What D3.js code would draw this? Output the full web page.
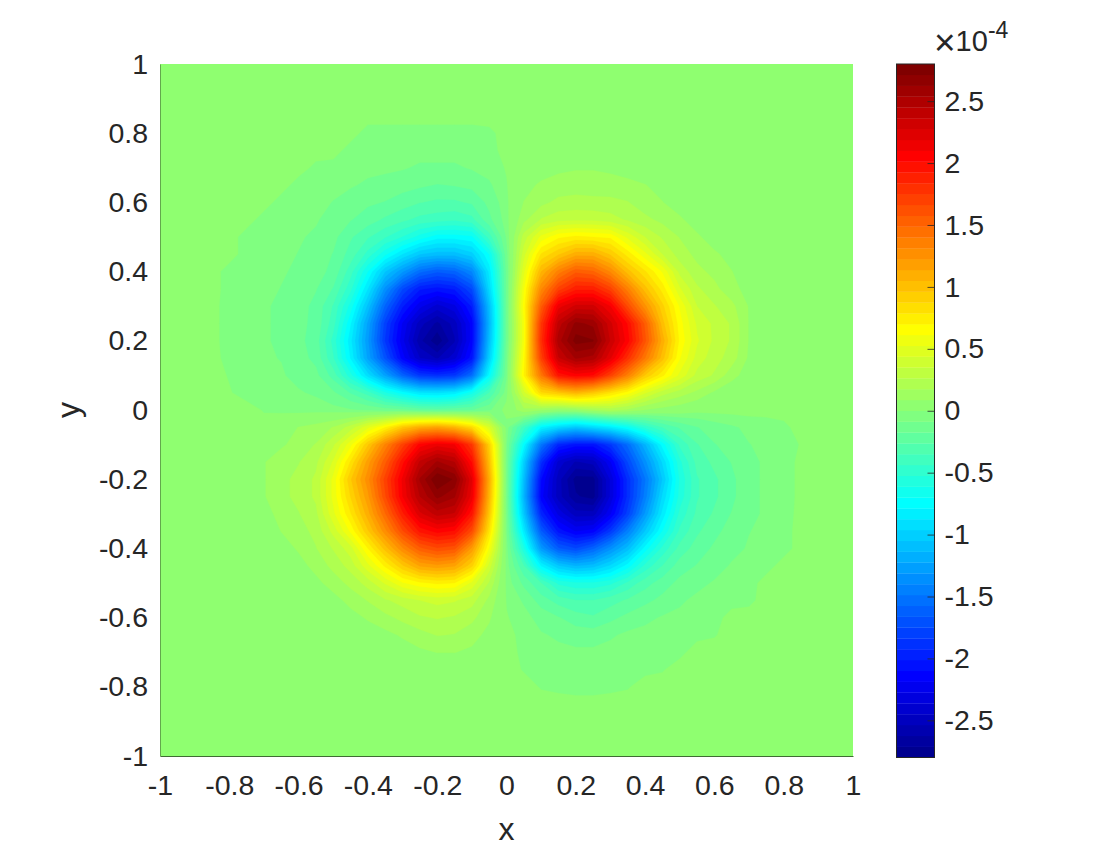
<!DOCTYPE html>
<html><head><meta charset="utf-8">
<script src="https://cdn.jsdelivr.net/npm/d3@7"></script>
<style>
html,body{margin:0;padding:0;background:#fff}
svg{display:block}
text{font-family:"Liberation Sans",Arial,sans-serif;fill:#262626}
</style></head><body>
<svg id="c" width="1102" height="850"></svg>
<script>
// Field values in units of 1e-4. Columns: x = -0.85 ... 0.85, rows: y = 0.85 ... -0.85 (step 0.05)
const zMax = 2.8;
const xTicks = [-1,-0.8,-0.6,-0.4,-0.2,0,0.2,0.4,0.6,0.8,1];
const yTicks = [-1,-0.8,-0.6,-0.4,-0.2,0,0.2,0.4,0.6,0.8,1];
const cbTicks = [-2.5,-2,-1.5,-1,-0.5,0,0.5,1,1.5,2,2.5];
const step = 0.05;
const zRows = [
[0,0,0,0,0,0,0,0,0,0,0,0,0,0,0,0,0, 0, 0,0,0,0,0,0,0,0,0,0,0,0,0,0,0,0,0],
[0,0,0,0,0,0,0,0,0,-.05,-.05,-.05,-.05,-.05,-.05,-.05,-.04, 0, 0,0,0,0,0,0,0,0,0,0,0,0,0,0,0,0,0],
[0,0,0,0,0,0,0,0,-.05,-.05,-.05,-.06,-.06,-.06,-.06,-.06,-.05, 0, 0,0,0,0,0,0,0,0,0,0,0,0,0,0,0,0,0],
[0,0,0,0,0,0,-.04,-.05,-.06,-.07,-.07,-.08,-.1,-.1,-.1,-.08,-.06, -.02, .03,.05,.07,.08,.08,.07,.05,.04,.02,0,0,0,0,0,0,0,0],
[0,0,0,0,0,-.05,-.06,-.07,-.08,-.1,-.12,-.14,-.16,-.18,-.17,-.15,-.1, -.03, .06,.1,.12,.13,.13,.12,.11,.09,.06,.03,0,0,0,0,0,0,0],
[0,0,0,0,-.05,-.06,-.07,-.09,-.12,-.16,-.18,-.22,-.26,-.28,-.28,-.25,-.15, -.04, .09,.15,.2,.21,.2,.2,.18,.12,.09,.05,.02,0,0,0,0,0,0],
[0,0,0,-.05,-.06,-.07,-.08,-.12,-.17,-.22,-.28,-.33,-.38,-.4,-.42,-.38,-.2, -.05, .15,.27,.32,.33,.33,.3,.25,.2,.15,.1,.05,.02,0,0,0,0,0],
[0,0,-.05,-.06,-.07,-.08,-.1,-.15,-.25,-.34,-.43,-.53,-.65,-.75,-.75,-.72,-.4, -.08, .3,.55,.68,.72,.7,.68,.5,.35,.25,.17,.1,.05,.02,0,0,0,0],
[0,0,-.05,-.06,-.07,-.09,-.12,-.18,-.3,-.47,-.68,-.88,-1.05,-1.1,-1.1,-1,-.7, -.12, .4,.8,.95,1.1,1.1,.95,.75,.55,.35,.22,.15,.1,.06,.02,0,0,0],
[0,-.05,-.06,-.07,-.08,-.1,-.14,-.2,-.4,-.7,-1.05,-1.3,-1.55,-1.65,-1.6,-1.4,-.85, -.15, .5,1.05,1.35,1.55,1.5,1.3,1,.8,.6,.32,.2,.15,.09,.03,0,0,0],
[0,-.05,-.07,-.07,-.09,-.12,-.17,-.27,-.5,-.88,-1.35,-1.75,-2,-2.05,-2,-1.75,-.95, -.15, .6,1.3,1.7,1.9,1.9,1.7,1.35,1,.75,.45,.28,.2,.12,.05,0,0,0],
[0,-.06,-.07,-.08,-.1,-.14,-.2,-.36,-.65,-1.08,-1.6,-2,-2.25,-2.4,-2.3,-2,-1.1, -.15, .65,1.55,2.15,2.3,2.3,2.1,1.65,1.25,.9,.6,.35,.27,.2,.08,0,0,0],
[0,-.06,-.08,-.08,-.1,-.15,-.2,-.4,-.78,-1.25,-1.8,-2.2,-2.5,-2.65,-2.5,-2.15,-1.15, -.15, .6,1.75,2.4,2.65,2.6,2.3,2,1.55,1,.65,.42,.33,.25,.08,0,0,0],
[0,-.06,-.08,-.08,-.1,-.15,-.22,-.47,-.85,-1.3,-1.85,-2.25,-2.6,-2.78,-2.55,-2.15,-1.1, -.15, .6,1.8,2.5,2.75,2.72,2.35,2.05,1.6,1.1,.68,.45,.33,.25,.08,0,0,0],
[0,-.05,-.07,-.08,-.09,-.14,-.2,-.43,-.8,-1.25,-1.7,-2.15,-2.45,-2.55,-2.4,-2.05,-1, -.12, .65,1.7,2.35,2.55,2.5,2.2,1.8,1.4,1,.62,.4,.3,.22,.07,0,0,0],
[0,-.03,-.06,-.07,-.08,-.11,-.15,-.3,-.58,-.92,-1.25,-1.6,-1.85,-1.9,-1.85,-1.55,-.75, -.1, .7,1.4,1.95,2.05,2,1.7,1.35,.95,.72,.5,.32,.25,.12,.04,0,0,0],
[0,-.02,-.05,-.06,-.07,-.08,-.1,-.16,-.27,-.4,-.6,-.75,-.88,-.9,-.85,-.65,-.35, -.05, .4,.85,.95,1.05,.95,.8,.65,.45,.3,.22,.15,.07,.02,0,0,0,0],
[0,0,0,-.03,-.04,-.05,-.05,-.06,-.08,-.1,-.13,-.15,-.2,-.22,-.2,-.18,-.1, 0, .15,.1,.05,.08,.15,.2,.15,.08,.05,.03,0,0,0,0,0,0,0],
[0,0,0,0,.04,.09,.12,.18,.3,.5,.7,.95,1.1,1.15,1.05,.85,.45, -.05, -.4,-.8,-.95,-1.05,-.95,-.85,-.7,-.5,-.35,-.25,-.18,-.13,-.1,-.07,-.06,-.04,0],
[0,0,0,.02,.07,.13,.18,.33,.58,.95,1.33,1.7,2.05,2.15,2.1,1.75,.9, -.08, -.75,-1.5,-1.95,-2.05,-2.05,-1.85,-1.55,-1.15,-.75,-.42,-.27,-.18,-.14,-.09,-.07,-.06,-.02],
[0,0,0,.08,.15,.17,.24,.45,.8,1.18,1.55,1.98,2.38,2.55,2.45,2,1, -.1, -1,-1.9,-2.4,-2.55,-2.5,-2.2,-1.75,-1.35,-.95,-.55,-.32,-.24,-.17,-.1,-.08,-.07,0],
[0,0,0,.08,.15,.2,.28,.55,.95,1.28,1.7,2.12,2.55,2.8,2.7,2.2,1.1, -.1, -1.1,-2.1,-2.5,-2.75,-2.75,-2.35,-1.9,-1.5,-1.05,-.6,-.36,-.28,-.2,-.1,-.08,-.07,0],
[0,0,0,.08,.15,.2,.28,.55,.88,1.2,1.65,2.1,2.45,2.65,2.55,2.15,1.05, -.1, -1.15,-2.15,-2.5,-2.7,-2.75,-2.35,-1.9,-1.45,-.95,-.58,-.36,-.28,-.2,-.1,-.08,-.07,0],
[0,0,0,.05,.12,.17,.24,.5,.78,1.1,1.48,1.9,2.25,2.4,2.35,1.95,.95, -.09, -1.05,-1.95,-2.3,-2.5,-2.5,-2.2,-1.8,-1.3,-.85,-.5,-.33,-.25,-.17,-.1,-.08,-.06,0],
[0,0,0,.03,.09,.14,.2,.38,.63,.95,1.28,1.65,1.95,2.05,2,1.65,.8, -.08, -.85,-1.65,-2.05,-2.2,-2.15,-1.85,-1.45,-1.05,-.7,-.42,-.28,-.2,-.14,-.09,-.07,-.05,0],
[0,0,0,0,.04,.1,.17,.27,.4,.7,1,1.3,1.55,1.65,1.6,1.2,.6, -.06, -.6,-1.3,-1.65,-1.75,-1.6,-1.35,-1.1,-.75,-.5,-.32,-.22,-.16,-.11,-.08,-.06,-.05,0],
[0,0,0,0,0,.05,.12,.2,.3,.5,.72,.95,1.15,1.2,1.15,.9,.4, -.05, -.35,-.8,-1.05,-1.15,-1.1,-.95,-.75,-.5,-.35,-.22,-.17,-.12,-.08,-.06,-.05,0,0],
[0,0,0,0,0,0,.06,.13,.2,.3,.45,.6,.68,.72,.7,.5,.25, -.04, -.2,-.35,-.55,-.6,-.6,-.55,-.42,-.3,-.22,-.15,-.11,-.08,-.06,-.05,0,0,0],
[0,0,0,0,0,0,0,.05,.12,.18,.25,.3,.35,.38,.36,.3,.15, -.03, -.1,-.22,-.3,-.35,-.35,-.3,-.25,-.2,-.15,-.1,-.07,-.06,-.05,-.04,0,0,0],
[0,0,0,0,0,0,0,0,.05,.1,.15,.2,.25,.27,.25,.2,.1, -.02, -.06,-.12,-.17,-.22,-.25,-.2,-.15,-.11,-.08,-.07,-.06,-.05,0,0,0,0,0],
[0,0,0,0,0,0,0,0,0,.03,.06,.1,.14,.18,.17,.12,.06, 0, -.05,-.08,-.1,-.13,-.13,-.1,-.07,-.06,-.05,-.05,-.04,-.03,0,0,0,0,0],
[0,0,0,0,0,0,0,0,0,0,0,.04,.07,.09,.09,.07,.03, 0, -.04,-.06,-.07,-.07,-.07,-.06,-.05,-.05,-.04,-.04,0,0,0,0,0,0,0],
[0,0,0,0,0,0,0,0,0,0,0,0,0,0,0,0,0, 0, -.03,-.05,-.06,-.06,-.06,-.05,-.04,-.04,-.03,0,0,0,0,0,0,0,0],
[0,0,0,0,0,0,0,0,0,0,0,0,0,0,0,0,0, 0, 0,-.03,-.04,-.05,-.05,-.04,-.03,0,0,0,0,0,0,0,0,0,0],
[0,0,0,0,0,0,0,0,0,0,0,0,0,0,0,0,0, 0, 0,0,0,0,0,0,0,0,0,0,0,0,0,0,0,0,0]
];

const plot = {l:160,r:853,t:64,b:756};
const bar = {l:896.5,r:934.5,t:64,b:757.5};
const fontSize = 28.5, labelSize = 32, ink = "#262626";

// MATLAB jet(64)
const cl = v => Math.max(0, Math.min(1, v));
function jet(i){ // i = 1..64
  const r = cl(Math.min((i-24)/16, 1-(i-56)/16));
  const g = cl(Math.min((i-8)/16, (56-i)/16));
  const b = cl(Math.min((i+8)/16, (40-i)/16));
  return d3.rgb(r*255,g*255,b*255).formatHex();
}
const nLevels = 64;
const levels = d3.range(nLevels).map(k => -zMax + k*(2*zMax/nLevels));
// the zero level sits halfway between a blank sample and the faintest typed sample
const contourLevels = levels.map((t,k) => k === nLevels/2 ? -0.025 : t);

const svg = d3.select("#c");
const x = d3.scaleLinear().domain([-1,1]).range([plot.l,plot.r]);
const y = d3.scaleLinear().domain([-1,1]).range([plot.b,plot.t]);

// Pad typed block with zeros out to the full [-1,1] domain
const n = 41, pad = (n - zRows.length)/2;
const grid = new Array(n*n).fill(0);
zRows.forEach((row,j) => row.forEach((v,i) => { grid[(i+pad)+(j+pad)*n] = v; }));

svg.append("clipPath").attr("id","pc").append("rect")
  .attr("x",plot.l).attr("y",plot.t).attr("width",plot.r-plot.l).attr("height",plot.b-plot.t);

const path = d3.geoPath(d3.geoTransform({point(px,py){
  this.stream.point(x(-1+(px-0.5)*step), y(1-(py-0.5)*step));
}}));

const contours = d3.contours().size([n,n]).smooth(true).thresholds(contourLevels)(grid);
svg.append("g").attr("clip-path","url(#pc)")
  .selectAll("path").data(contours).join("path")
  .attr("d",path)
  .attr("fill",(d,i)=>jet(i+1))
  .attr("stroke",(d,i)=>jet(i+1)).attr("stroke-width",0.3);

// axes
const xAxis = d3.axisBottom(x).tickValues(xTicks).tickFormat(d=>String(d)).tickSize(0).tickPadding(19);
const yAxis = d3.axisLeft(y).tickValues(yTicks).tickFormat(d=>String(d)).tickSize(0).tickPadding(12);
const gx = svg.append("g").attr("transform",`translate(0,${plot.b})`).call(xAxis);
const gy = svg.append("g").attr("transform",`translate(${plot.l},0)`).call(yAxis);
[gx,gy].forEach(g=>{
  g.selectAll("text").style("font-family",'"Liberation Sans"').style("font-size",fontSize+"px").attr("fill",ink);
});
gx.select(".domain").attr("stroke","#3f6b33").attr("stroke-width",1);
gy.select(".domain").attr("stroke","#62a84c").attr("stroke-width",1);

svg.append("text").attr("x",(plot.l+plot.r)/2).attr("y",840).attr("text-anchor","middle")
  .style("font-size",labelSize+"px").text("x");
svg.append("text").attr("transform",`translate(79,${(plot.t+plot.b)/2}) rotate(-90)`).attr("text-anchor","middle")
  .style("font-size",labelSize+"px").text("y");

// colorbar
const cb = d3.scaleLinear().domain([-zMax,zMax]).range([bar.b,bar.t]);
const cg = svg.append("g");
cg.selectAll("rect").data(levels).join("rect")
  .attr("x",bar.l).attr("width",bar.r-bar.l)
  .attr("y",d=>cb(d+2*zMax/nLevels)).attr("height",d=>cb(d)-cb(d+2*zMax/nLevels)+0.3)
  .attr("fill",(d,i)=>jet(i+1));
cg.append("rect").attr("x",bar.l).attr("y",bar.t).attr("width",bar.r-bar.l).attr("height",bar.b-bar.t)
  .attr("fill","none").attr("stroke",ink).attr("stroke-width",1);
const cbAxis = d3.axisRight(cb).tickValues(cbTicks).tickSize(0).tickPadding(10).tickFormat(d=>String(d));
const gc = svg.append("g").attr("transform",`translate(${bar.r},0)`).call(cbAxis);
gc.select(".domain").remove();
gc.selectAll("text").style("font-family",'"Liberation Sans"').style("font-size",fontSize+"px").attr("fill",ink);
gc.selectAll(".tick").append("line").attr("x1",-7).attr("x2",0).attr("stroke",ink).attr("stroke-width",0.8);

// multiplier
const mult = svg.append("text").attr("x",934).attr("y",51).style("font-size","29px");
mult.append("tspan").attr("dy",4).style("font-size","37px").style("font-weight","300").text("\u00d7");
mult.append("tspan").attr("dy",-4).text("10");
mult.append("tspan").attr("dy",-13).style("font-size","23px").text("-4");
</script></body></html>
